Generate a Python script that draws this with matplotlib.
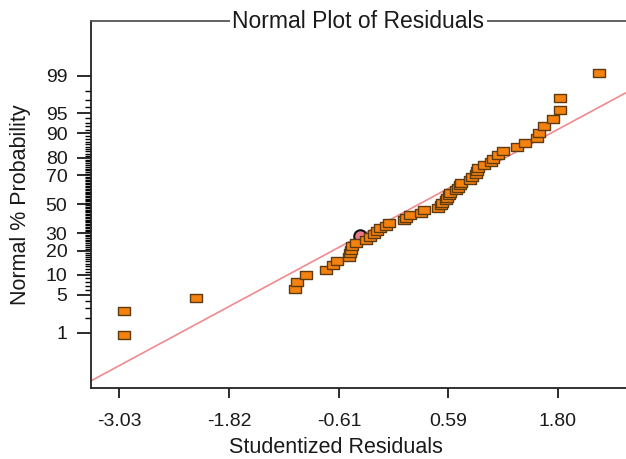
import numpy as np
import matplotlib
matplotlib.use('Agg')
import matplotlib.pyplot as plt
from matplotlib.ticker import FixedLocator, NullFormatter
from statistics import NormalDist

plt.rcParams['font.family'] = ['Liberation Sans', 'DejaVu Sans']

# studentized residuals (sorted) and their normal % probability positions
residuals = [-2.98, -2.98, -2.18, -1.10, -1.07, -0.97, -0.75, -0.68, -0.63, -0.50,
             -0.49, -0.48, -0.47, -0.42, -0.31, -0.27, -0.22, -0.19, -0.16, -0.09,
             -0.06, 0.11, 0.13, 0.17, 0.29, 0.33, 0.48, 0.51, 0.53, 0.57,
             0.58, 0.60, 0.61, 0.68, 0.70, 0.72, 0.73, 0.83, 0.86, 0.90,
             0.91, 0.92, 0.99, 1.07, 1.09, 1.14, 1.20, 1.35, 1.44, 1.57,
             1.59, 1.65, 1.75, 1.82, 1.83, 2.25]
normal_pct = [0.9, 2.7, 4.5, 6.3, 8.0, 9.8, 11.6, 13.4, 15.2, 17.0,
              18.8, 20.5, 22.3, 24.1, 25.9, 27.7, 29.5, 31.3, 33.0, 34.8,
              36.6, 38.4, 40.2, 42.0, 43.8, 45.5, 47.3, 49.1, 50.9, 52.7,
              54.5, 56.3, 58.0, 59.8, 61.6, 63.4, 65.2, 67.0, 68.8, 70.5,
              72.3, 74.1, 75.9, 77.7, 79.5, 81.3, 83.0, 84.8, 86.6, 88.4,
              90.2, 92.0, 93.8, 95.5, 97.3, 99.1]

# highlighted run (drawn behind the squares)
highlight_x = [-0.38]
highlight_pct = [28.3]

# reference line end points
line_x = [-3.34, 2.56]
line_pct = [0.069, 97.85]

y_ticks = [1, 5, 10, 20, 30, 50, 70, 80, 90, 95, 99]
x_ticks = [-3.03, -1.82, -0.61, 0.59, 1.80]
x_labels = ['-3.03', '-1.82', '-0.61', '0.59', '1.80']

nd = NormalDist()


def to_z(p):
    p = np.clip(np.asarray(p, dtype=float), 1e-4, 100 - 1e-4)
    return np.vectorize(lambda v: nd.inv_cdf(v / 100.0), otypes=[float])(p)


def from_z(z):
    z = np.asarray(z, dtype=float)
    return np.vectorize(lambda v: nd.cdf(v) * 100.0, otypes=[float])(z)


fig = plt.figure(figsize=(6.26, 4.59), dpi=100)
ax = fig.add_axes([91 / 626, 71 / 459, 535 / 626, 367 / 459])
ax.set_yscale('function', functions=(to_z, from_z))

rect = [(-1, -0.62), (1, -0.62), (1, 0.62), (-1, 0.62), (-1, -0.62)]

ax.plot(line_x, line_pct, color='#f08a8e', lw=1.2, zorder=2)
ax.plot(highlight_x, highlight_pct, 'o', ms=9, mfc='#e8788a', mec='#111111',
        mew=1.5, zorder=3)
ax.plot(residuals, normal_pct, ls='none', marker=rect, ms=9,
        mfc='#f5820f', mec='#5e3a10', mew=1.0, zorder=4)

ax.set_xlim(-3.342, 2.552)
ax.set_ylim(from_z(-3.33), from_z(3.315))

minor_pct = [v for v in range(2, 99) if v not in y_ticks]
ax.yaxis.set_major_locator(FixedLocator(y_ticks))
ax.set_yticklabels([str(t) for t in y_ticks])
ax.yaxis.set_minor_locator(FixedLocator(minor_pct))
ax.yaxis.set_minor_formatter(NullFormatter())
ax.set_xticks(x_ticks)
ax.set_xticklabels(x_labels)

ax.tick_params(axis='y', which='major', length=10, width=1.3, pad=7,
               labelsize=14, colors='#1a1a1a')
ax.tick_params(axis='y', which='minor', length=4, width=1.0, color='#000000')
ax.tick_params(axis='x', which='major', length=7.2, width=1.3, pad=11,
               labelsize=14, colors='#1a1a1a')

for side in ['left', 'bottom']:
    ax.spines[side].set_color('#222222')
    ax.spines[side].set_linewidth(1.3)
ax.spines['top'].set_color('#555555')
ax.spines['top'].set_linewidth(1.3)
ax.spines['right'].set_visible(False)

ax.text(0.5, 1.0, 'Normal Plot of Residuals', transform=ax.transAxes,
        ha='center', va='center', fontsize=16.5, color='#1a1a1a',
        bbox=dict(facecolor='white', edgecolor='none', pad=1.5))

ax.set_xlabel('Studentized Residuals', fontsize=15.5, color='#1a1a1a')
ax.xaxis.label.set_va('center')
ax.xaxis.set_label_coords(0.457, -0.163)
ax.set_ylabel('Normal % Probability', fontsize=15.5, color='#1a1a1a')
ax.yaxis.label.set_va('center')
ax.yaxis.set_label_coords(-0.131, 0.5)

fig.savefig('out.png', dpi=100)
